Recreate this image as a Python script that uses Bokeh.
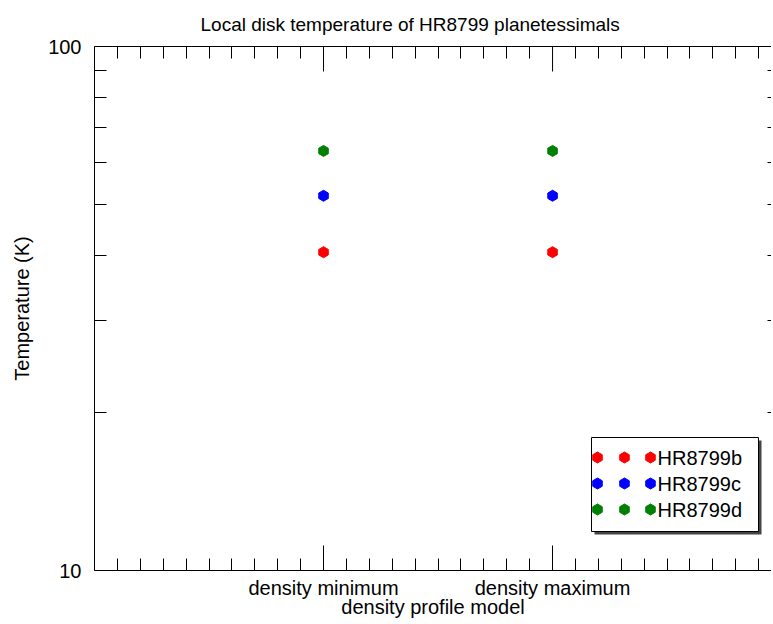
import math
from bokeh.plotting import figure
from bokeh.models import (Range1d, FixedTicker, LinearAxis, LogAxis, LinearScale)
from bokeh.core.properties import value
from bokeh.embed import file_html
from bokeh.resources import INLINE

# ---------------- data ----------------
TITLE = "Local disk temperature of HR8799 planetessimals"
MODELS = ["density minimum", "density maximum"]
MODEL_POS = [1, 2]
HR8799B = [40.5, 40.5]
HR8799C = [51.9, 51.9]
HR8799D = [63.2, 63.2]
SERIES_NAMES = ["HR8799b", "HR8799c", "HR8799d"]
SERIES_COLORS = ["#ff0000", "#0000ff", "#008000"]
Y_TICKS = [10, 100]
Y_TICK_LABELS = ["10", "100"]
Y_MINOR = [20, 30, 40, 50, 60, 70, 80, 90]
X_MINOR = [0.1, 0.2, 0.3, 0.4, 0.5, 0.6, 0.7, 0.8, 0.9,
           1.1, 1.2, 1.3, 1.4, 1.5, 1.6, 1.7, 1.8, 1.9,
           2.1, 2.2, 2.3, 2.4, 2.5, 2.6, 2.7, 2.8, 2.9]

FONT = "Liberation Sans"
FW, FH = 677, 524

p = figure(frame_width=FW, frame_height=FH,
           x_range=Range1d(0, 2.956), y_range=Range1d(10, 100),
           y_axis_type="log", output_backend="svg", toolbar_location=None,
           min_border_left=94, min_border_right=0, min_border_top=46,
           min_border_bottom=0, background_fill_color="white",
           border_fill_color="white")
p.outline_line_color = None
p.grid.visible = False

# title
p.title.text = TITLE
p.title.text_font = FONT
p.title.text_font_size = "19px"
p.title.text_font_style = "normal"
p.title.text_color = "black"
p.title.align = "left"
p.title.offset = 106
p.title.standoff = 23

x_ticker = FixedTicker(ticks=MODEL_POS, minor_ticks=X_MINOR)
y_ticker = FixedTicker(ticks=Y_TICKS, minor_ticks=Y_MINOR)

def style_axis(ax, major_in, minor_in):
    ax.major_tick_in = major_in
    ax.major_tick_out = 0
    ax.minor_tick_in = minor_in
    ax.minor_tick_out = 0
    ax.axis_line_color = "black"
    ax.major_tick_line_color = "black"
    ax.minor_tick_line_color = "black"
    ax.major_label_text_font = FONT
    ax.major_label_text_font_size = "20px"
    ax.major_label_text_color = "black"
    ax.axis_label_text_font = FONT
    ax.axis_label_text_font_size = "20px"
    ax.axis_label_text_font_style = "normal"
    ax.axis_label_text_color = "black"

xa = p.xaxis[0]
xa.ticker = x_ticker
xa.major_label_overrides = {pos: name for pos, name in zip(MODEL_POS, MODELS)}
xa.axis_label = "density profile model"
style_axis(xa, 25, 12)
xa.major_label_standoff = 6
xa.axis_label_standoff = -6

ya = p.yaxis[0]
ya.ticker = y_ticker
ya.major_label_overrides = {t: s for t, s in zip(Y_TICKS, Y_TICK_LABELS)}
ya.axis_label = "Temperature (K)"
style_axis(ya, 12, 12)
ya.major_label_standoff = 13
ya.axis_label_standoff = 12

# mirrored top axis: minor ticks only (long ticks at the models drawn below)
top = LinearAxis(ticker=FixedTicker(ticks=[], minor_ticks=X_MINOR))
style_axis(top, 25, 12)
p.add_layout(top, "above")

# mirrored right axis (cut by the page edge in the reference: short stubs only)
right = LogAxis(ticker=FixedTicker(ticks=[], minor_ticks=Y_MINOR))
style_axis(right, 4, 4)
right.axis_line_color = None
p.add_layout(right, "right")

# data points
for vals, color in zip([HR8799B, HR8799C, HR8799D], SERIES_COLORS):
    p.scatter(MODEL_POS, vals, marker="hex", size=11, angle=math.pi / 6,
              fill_color=color, line_color=color)

# pixel overlay ranges (frame-relative, top-left origin)
p.extra_x_ranges = {"lx": Range1d(0, FW)}
p.extra_y_ranges = {"ly": Range1d(FH, 0)}
p.extra_x_scales = {"lx": LinearScale()}
p.extra_y_scales = {"ly": LinearScale()}

# long top ticks at the model positions
p.segment(x0=MODEL_POS, x1=MODEL_POS, y0=[0] * len(MODEL_POS), y1=[25] * len(MODEL_POS),
          line_color="black", line_width=1, y_range_name="ly")

# legend (three symbols per entry)
LEG_L, LEG_R, LEG_T, LEG_B = 497, 664, 391, 485
SH = 3
p.quad(left=[LEG_L + SH], right=[LEG_R + SH], top=[LEG_T + SH], bottom=[LEG_B + SH],
       fill_color="#444444", line_color=None, x_range_name="lx", y_range_name="ly")
p.quad(left=[LEG_L], right=[LEG_R], top=[LEG_T], bottom=[LEG_B],
       fill_color="white", line_color="black", line_width=1,
       x_range_name="lx", y_range_name="ly")
ROW0, ROW_DY = 411, 26
COLS = [503, 530, 556]
TEXT_X = 563
for i, (name, color) in enumerate(zip(SERIES_NAMES, SERIES_COLORS)):
    ry = ROW0 + i * ROW_DY
    p.scatter(COLS, [ry] * len(COLS), marker="hex", size=11, angle=math.pi / 6,
              fill_color=color, line_color=color,
              x_range_name="lx", y_range_name="ly")
    p.text(x=[TEXT_X], y=[ry], text=[name], text_baseline="middle",
           text_align="left", text_font=value(FONT), text_font_size="20px",
           text_color="black", x_range_name="lx", y_range_name="ly")

open("out.html", "w").write(file_html(p, INLINE))
